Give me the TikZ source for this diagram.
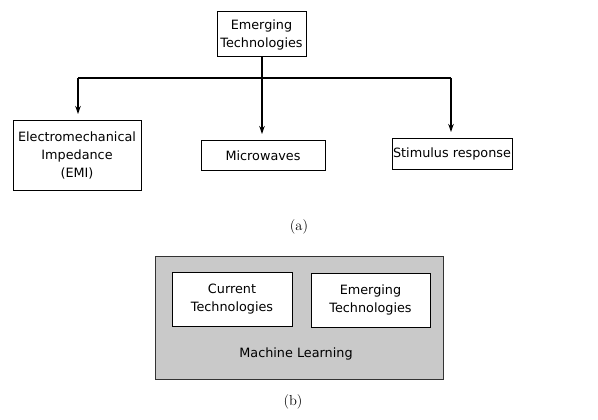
\documentclass[tikz,border=0pt]{standalone}
\usepackage{fontspec}
\newfontfamily\boxfont{DejaVu Sans}
\usetikzlibrary{arrows.meta}
\begin{document}
\begin{tikzpicture}[x=1pt,y=-1pt,
  boxtext/.style={font=\boxfont\fontsize{12.8}{18}\selectfont, align=center, inner sep=0pt},
  framebox/.style={draw=black, line width=1pt, fill=white},
  conn/.style={line width=1.1pt, -{Stealth[length=8pt,width=5.5pt]}, shorten >=7pt},
  caption/.style={font=\fontsize{14.5}{16}\selectfont, inner sep=0pt}]
\useasboundingbox (0,0) rectangle (598,420);
% (a)
\draw[framebox] (217,12) rectangle (306,57);
\node[boxtext] (top) at (261.5,34.5) {Emerging\\Technologies};
\coordinate (topb) at (262,57);
\draw[framebox] (13,121) rectangle (141,190);
\node[boxtext] (emi) at (77,155.5) {Electromechanical\\Impedance\\(EMI)};
\coordinate (emit) at (78,121);
\draw[framebox] (201,141) rectangle (325,170);
\node[boxtext] (mw) at (263,155.5) {Microwaves};
\coordinate (mwt) at (262,141);
\draw[framebox] (392,139) rectangle (512,169);
\node[boxtext] (sr) at (452,154) {Stimulus response};
\coordinate (srt) at (451,139);
\coordinate (bl) at (78,78);
\coordinate (br) at (451,78);
\draw[line width=1.1pt] (bl) -- (br);
\draw[conn] (topb) -- (mwt);
\draw[conn] (bl) -- (emit);
\draw[conn] (br) -- (srt);
\node[caption] (capa) at (299,227) {(a)};
% (b)
\draw[draw=black!80, line width=1pt, fill=black!21] (155,256) rectangle (443,379);
\draw[framebox] (172,272) rectangle (292,326);
\node[boxtext] (cur) at (232,299) {Current\\Technologies};
\draw[framebox] (311,273) rectangle (430,327);
\node[boxtext] (emb) at (370.5,300) {Emerging\\Technologies};
\node[boxtext] (ml) at (296,354) {Machine Learning};
\node[caption] (capb) at (293,402) {(b)};
\end{tikzpicture}
\end{document}
